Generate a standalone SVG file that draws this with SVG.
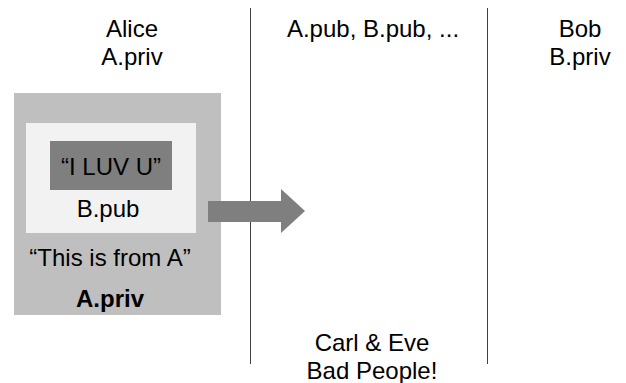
<svg xmlns="http://www.w3.org/2000/svg" width="626" height="383" viewBox="0 0 626 383">
<style>
.t{font-family:"Liberation Sans",Arial,sans-serif;font-size:24px;fill:#000;text-anchor:middle}
.b{font-weight:bold}
.div{stroke:#404040;stroke-width:1;fill:none}
</style>
<rect width="626" height="383" fill="#fff"/>
<g id="dividers">
<line class="div" x1="250.5" y1="8" x2="250.5" y2="364"/>
<line class="div" x1="487.5" y1="8" x2="487.5" y2="364"/>
</g>
<g id="alice">
<text class="t" x="132" y="37">Alice</text>
<text class="t" x="132" y="65">A.priv</text>
</g>
<g id="public">
<text class="t" x="373" y="37">A.pub, B.pub, ...</text>
</g>
<g id="bob">
<text class="t" x="580" y="37">Bob</text>
<text class="t" x="580" y="65">B.priv</text>
</g>
<g id="signed-envelope">
<rect x="14" y="93" width="207" height="222" fill="#bfbfbf"/>
<text class="t" x="110" y="266">“This is from A”</text>
<text class="t b" x="110" y="307">A.priv</text>
</g>
<g id="encrypted-envelope">
<rect x="26" y="123" width="170" height="110" fill="#f2f2f2"/>
<text class="t" x="108" y="217">B.pub</text>
</g>
<g id="message">
<rect x="50" y="141" width="122" height="49" fill="#7f7f7f"/>
<text class="t" x="111" y="175">“I LUV U”</text>
</g>
<g id="connectors">
<polygon points="208,201 281,201 281,189 305,211 281,233 281,222 208,222" fill="#7f7f7f"/>
</g>
<g id="eavesdroppers">
<text class="t" x="372" y="351">Carl &amp; Eve</text>
<text class="t" x="372" y="379">Bad People!</text>
</g>
</svg>
